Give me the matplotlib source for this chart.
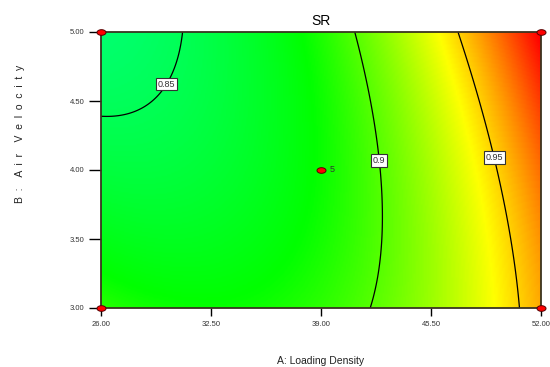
import matplotlib
matplotlib.use("Agg")
import matplotlib.pyplot as plt
import numpy as np
from matplotlib.colors import LinearSegmentedColormap
from matplotlib.path import Path

# factor ranges
a_range = [26.0, 52.0]       # A: Loading Density
b_range = [3.0, 5.0]         # B: Air Velocity
a_ticks = [26.00, 32.50, 39.00, 45.50, 52.00]
b_ticks = [3.00, 3.50, 4.00, 4.50, 5.00]

# quadratic model in coded units: b0, A, B, AB, A^2, B^2
coef = [0.882, 0.0577, -0.00175, 0.0224, 0.0341, 0.00665]
levels = [0.85, 0.9, 0.95]
level_labels = ["0.85", "0.9", "0.95"]
label_pos = [(29.9, 4.62), (42.4, 4.07), (49.2, 4.09)]

# design points
design_a = [26, 52, 26, 52, 39]
design_b = [5, 5, 3, 3, 4]
center_reps = "5"

# colour stops (value, colour)
stops = [(0.79, "#00ffff"), (0.88, "#00ff00"), (0.94, "#ffff00"), (1.0, "#ff0000")]


def model(a, b):
    x1 = (a - 39.0) / 13.0
    x2 = (b - 4.0) / 1.0
    return (coef[0] + coef[1] * x1 + coef[2] * x2 + coef[3] * x1 * x2
            + coef[4] * x1 ** 2 + coef[5] * x2 ** 2)


vmin, vmax = stops[0][0], stops[-1][0]
cmap = LinearSegmentedColormap.from_list(
    "de", [((v - vmin) / (vmax - vmin), c) for v, c in stops])

A, B = np.meshgrid(np.linspace(*a_range, 300), np.linspace(*b_range, 200))
Z = model(A, B)

narrow = ["Liberation Sans Narrow", "Liberation Sans", "DejaVu Sans"]

fig = plt.figure(figsize=(5.5, 3.67), dpi=100)
ax = fig.add_axes([101 / 550, 1 - 308 / 367, 440 / 550, 276 / 367])

ax.imshow(Z, extent=[*a_range, *b_range], origin="lower", aspect="auto",
          cmap=cmap, vmin=vmin, vmax=vmax, interpolation="bilinear")
cs = ax.contour(A, B, Z, levels=levels, colors="black", linewidths=0.9)
lbls = ax.clabel(cs, levels, inline=False, manual=label_pos,
                 fmt=dict(zip(levels, level_labels)), fontsize=6.5)
for t in lbls:
    t.set_rotation(0)
    t.set_family(narrow)
    t.set_color("#333333")
    t.set_bbox(dict(facecolor="white", edgecolor="#333333", linewidth=0.8,
                    boxstyle="square,pad=0.2"))
    t.set_zorder(5)

# ellipse marker for design points
theta = np.linspace(0, 2 * np.pi, 40)
ell = Path(np.column_stack([1.6 * np.cos(theta), np.sin(theta)]), closed=True)
ax.plot(design_a, design_b, linestyle="none", marker=ell, markersize=6.5,
        markerfacecolor="#ff0000", markeredgecolor="#550000",
        markeredgewidth=0.7, clip_on=False, zorder=6)
ax.annotate(center_reps, (design_a[-1], design_b[-1]), xytext=(6, 0),
            textcoords="offset points", fontsize=6.5, va="center",
            color="#333333", family=narrow)

ax.set_xlim(*a_range)
ax.set_ylim(*b_range)
ax.set_xticks(a_ticks)
ax.set_yticks(b_ticks)
ax.set_xticklabels([f"{v:.2f}" for v in a_ticks])
ax.set_yticklabels([f"{v:.2f}" for v in b_ticks])
for lab in ax.get_xticklabels() + ax.get_yticklabels():
    lab.set_family(narrow)
    lab.set_fontsize(5.5)
    lab.set_color("#333333")
ax.tick_params(axis="x", length=6, width=1, pad=3)
ax.tick_params(axis="y", length=9, width=1, pad=3)
for sp in ax.spines.values():
    sp.set_color("#3a3320")
    sp.set_linewidth(1.3)

ax.set_title("SR", fontsize=10, family=["Liberation Sans", "DejaVu Sans"],
             pad=5)
fig.text(321 / 550, 1 - 361 / 367, "A: Loading Density", ha="center",
         va="center", fontsize=7.5, family=narrow, color="#222222")
fig.text(20 / 550, 1 - 134 / 367,
         "B  :    A  i  r    V  e  l  o  c  i  t  y", ha="center",
         va="center", rotation=90, fontsize=7.5,
         family=["Liberation Sans", "DejaVu Sans"], color="#222222")

fig.savefig("out.png", dpi=100)
